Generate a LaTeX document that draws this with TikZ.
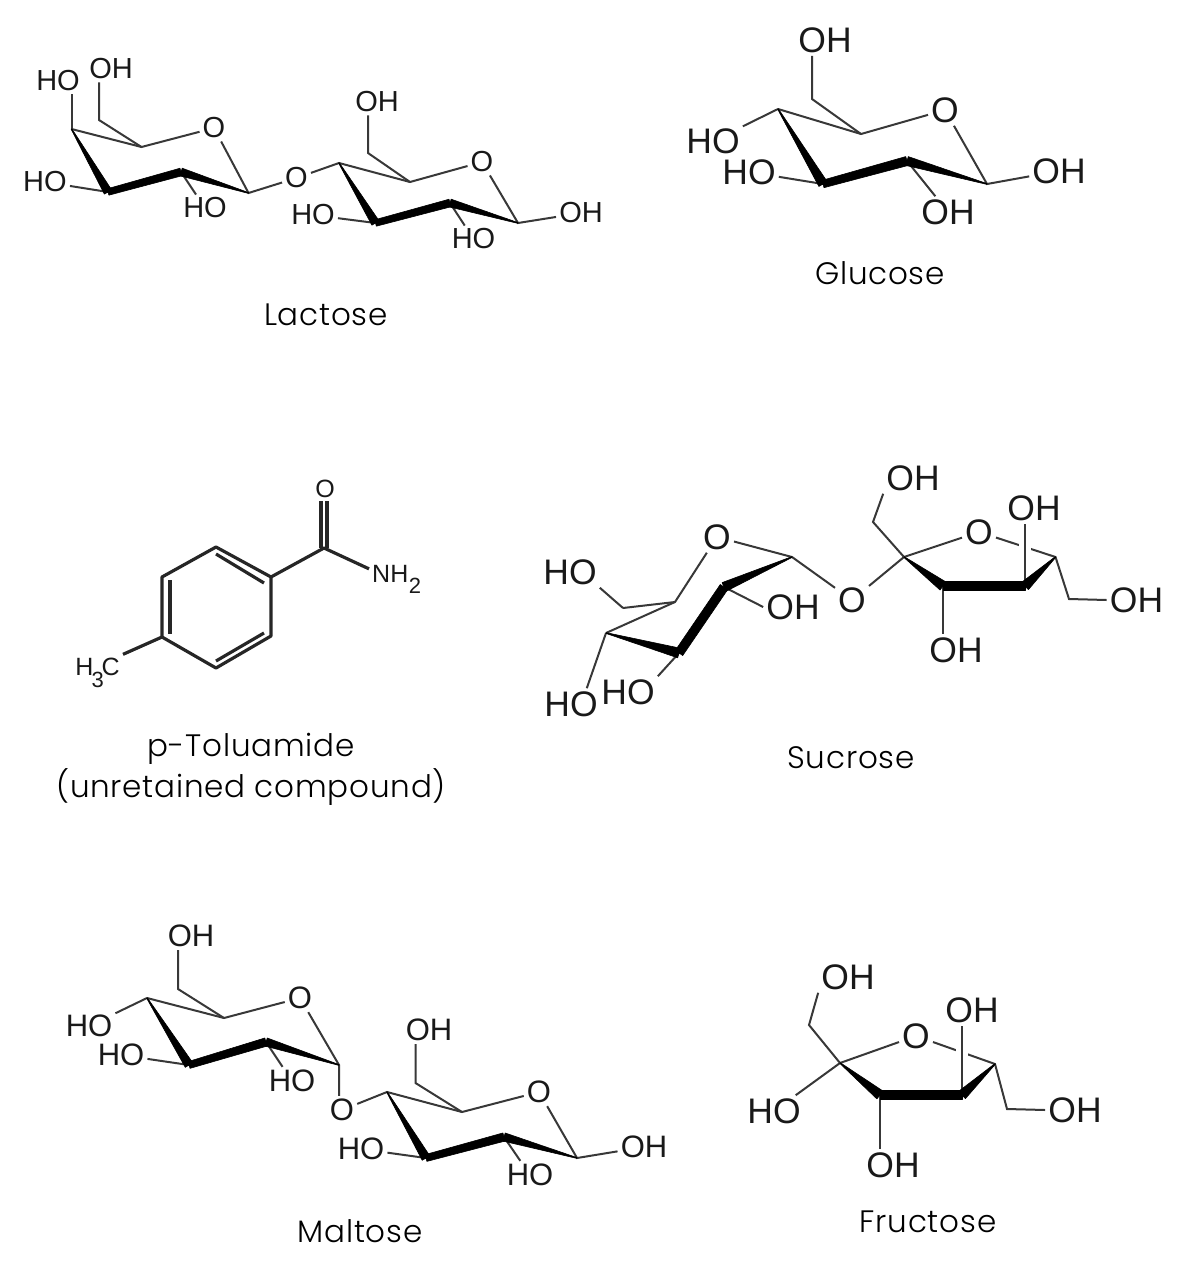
\documentclass[tikz,border=0pt]{standalone}
\usepackage{fontspec}
\setmainfont{Liberation Sans}
\newfontfamily\capfont[LetterSpace=2.5]{Poppins Light}
\usetikzlibrary{calc,positioning}

\tikzset{
  bond/.style={draw=black!78, line width=2pt},
  halo/.style={draw=white, line width=12pt},
  tolbond/.style={draw=black!85, line width=3.2pt, line join=round},
  atomsmall/.style={inner sep=3pt, text=black!90, font=\fontsize{29}{29}\selectfont},
  atommid/.style={inner sep=3pt, text=black!90, font=\fontsize{31}{31}\selectfont},
  atombig/.style={inner sep=3pt, text=black!90, font=\fontsize{35.5}{36}\selectfont},
  atomtol/.style={inner sep=3pt, text=black!90, font=\fontsize{25}{25}\selectfont},
  caption/.style={inner sep=0pt, text=black, font=\capfont\fontsize{31}{40}\selectfont}
}
\newcommand{\wedgebond}[4]{\filldraw[black, line width=.6pt, line join=round] ($(#1)!#3!90:(#2)$) -- ($(#1)!#3!-90:(#2)$) -- ($(#2)!#4!90:(#1)$) -- ($(#2)!#4!-90:(#1)$) -- cycle;}
\newcommand{\lowdigit}[2]{\raisebox{-#1}{\fontsize{22}{22}\selectfont #2}}

\begin{document}
\begin{tikzpicture}[x=1pt,y=-1pt]
  \useasboundingbox (0,0) rectangle (1186,1280);

  \begin{scope}
    \coordinate (la4) at (71.5,129); \coordinate (la5) at (141.5,147); \coordinate (la1) at (248.5,193);
    \coordinate (la2) at (181,172); \coordinate (la3) at (108,192); \coordinate (la6) at (99,120);
    \coordinate (lb4) at (339,163); \coordinate (lb5) at (410,182); \coordinate (lb1) at (518,223);
    \coordinate (lb2) at (450,203); \coordinate (lb3) at (375.5,223); \coordinate (lb6) at (368,153);
    \node[atomsmall] (lao) at (214,128) {O};
    \node[atomsmall] (laoh6) at (111,69) {OH};
    \node[atomsmall] (laho4) at (58,81) {HO};
    \node[atomsmall] (laho3) at (45,182) {HO};
    \node[atomsmall] (laho2) at (205,208) {HO};
    \node[atomsmall] (lbr) at (296.5,178) {O};
    \node[atomsmall] (lbo) at (482,162) {O};
    \node[atomsmall] (lboh6) at (377,102) {OH};
    \node[atomsmall] (lbho3) at (313,215) {HO};
    \node[atomsmall] (lbho2) at (473.5,239) {HO};
    \node[atomsmall] (lboh1) at (581,213) {OH};
    \node[caption] (lacname) at (326,315) {Lactose};
    \draw[bond] (la4) -- (la5) -- (lao) -- (la1) -- (lbr) -- (lb4) -- (lb5) -- (lbo) -- (lb1) -- (lboh1);
    \draw[bond] (la5) -- (la6) -- (la6 |- laoh6.south);
    \draw[bond] (la4) -- (la4 |- laho4.south);
    \draw[bond] (la3) -- (laho3);
    \draw[bond] (la2) -- (laho2);
    \draw[bond] (lb5) -- (lb6) -- (lb6 |- lboh6.south);
    \draw[bond] (lb3) -- (lbho3);
    \draw[bond] (lb2) -- (lbho2);
    \wedgebond{la4}{la3}{.4pt}{4.2pt} \wedgebond{la3}{la2}{3.3pt}{3.9pt} \wedgebond{la2}{la1}{4pt}{.4pt}
    \wedgebond{lb4}{lb3}{.4pt}{4.2pt} \wedgebond{lb3}{lb2}{3.3pt}{3.9pt} \wedgebond{lb2}{lb1}{4pt}{.4pt}
  \end{scope}

  \begin{scope}
    \coordinate (gl4) at (778,109); \coordinate (gl5) at (861,134); \coordinate (gl1) at (987,184);
    \coordinate (gl2) at (907,161); \coordinate (gl3) at (823,184); \coordinate (gl6) at (812,99);
    \node[atombig] (glo) at (945,110) {O};
    \node[atombig] (gloh6) at (825,40) {OH};
    \node[atombig] (glho4) at (713,141) {HO};
    \node[atombig] (glho3) at (749,172) {HO};
    \node[atombig] (gloh2) at (948,212) {OH};
    \node[atombig] (gloh1) at (1059,171) {OH};
    \node[caption] (gluname) at (880,273) {Glucose};
    \draw[bond] (gl4) -- (gl5) -- (glo) -- (gl1) -- (gloh1);
    \draw[bond] (gl5) -- (gl6) -- (gl6 |- gloh6.south);
    \draw[bond] (gl4) -- (glho4);
    \draw[bond] (gl3) -- (glho3);
    \draw[bond] (gl2) -- (gloh2);
    \wedgebond{gl4}{gl3}{.4pt}{4.8pt} \wedgebond{gl3}{gl2}{3.8pt}{4.6pt} \wedgebond{gl2}{gl1}{4.6pt}{.4pt}
  \end{scope}

  \begin{scope}
    \coordinate (to1) at (216,547); \coordinate (to2) at (271,577); \coordinate (to3) at (271,636);
    \coordinate (to4) at (216,668); \coordinate (to5) at (162,637); \coordinate (to6) at (162,577);
    \coordinate (tocb) at (324,548);
    \node[atomtol] (too) at (325,489) {O};
    \node[atomtol, anchor=base west] (tonh) at (369,582) {NH\kern.5pt\lowdigit{11pt}{2}};
    \node[atomtol, anchor=base east] (toch) at (123,675) {H\kern-2pt\lowdigit{12pt}{3}\kern-2pt C};
    \node[caption] (tolname) at (251,749) {p-Toluamide};
    \node[caption, below=3pt of tolname] (tolnote) {(unretained compound)};
    \draw[tolbond] (to1) -- (to2) -- (to3) -- (to4) -- (to5) -- (to6) -- cycle;
    \draw[tolbond] (to2) -- (tocb) -- (tonh.160);
    \draw[tolbond] (to5) -- (toch.north east);
    \draw[tolbond] ([xshift=-3pt]tocb) -- ([xshift=-3pt]tocb |- too.south);
    \draw[tolbond] ([xshift=3pt]tocb) -- ([xshift=3pt]tocb |- too.south);
    \coordinate (toa) at (170,580); \coordinate (tob) at (170,634);
    \coordinate (toc) at (216,554); \coordinate (tod) at (264,583);
    \coordinate (toe) at (264,633); \coordinate (tof) at (216,661);
    \draw[tolbond] (toa) -- (tob);
    \draw[tolbond] (toc) -- (tod);
    \draw[tolbond] (toe) -- (tof);
  \end{scope}

  \begin{scope}
    \coordinate (su1) at (792,557); \coordinate (su2) at (724,587); \coordinate (su3) at (679,653);
    \coordinate (su4) at (606,633); \coordinate (su5) at (675,602); \coordinate (su6) at (623,608);
    \coordinate (sf2) at (904,557); \coordinate (sf5) at (1055.5,557); \coordinate (sf4) at (1025,586);
    \coordinate (sf3) at (943,586); \coordinate (sf1) at (873,522); \coordinate (sf6) at (1069,599);
    \node[atombig] (suo) at (717,537) {O};
    \node[atombig] (suho6) at (570,572) {HO};
    \node[atombig] (suho4) at (571,704) {HO};
    \node[atombig] (suho3) at (628,692) {HO};
    \node[atombig] (suoh2) at (793,607) {OH};
    \node[atombig] (sbr) at (852,600) {O};
    \node[atombig] (sfo) at (979,532) {O};
    \node[atombig] (sfoh1) at (913,478) {OH};
    \node[atombig] (sfoh4) at (1034,508) {OH};
    \node[atombig] (sfoh3) at (956,650) {OH};
    \node[atombig] (sfoh6) at (1136.5,600) {OH};
    \node[caption] (sucname) at (851,758) {Sucrose};
    \draw[bond] (su6) -- (su5) -- (suo) -- (su1) -- (sbr) -- (sf2) -- (sfo) -- (sf5) -- (sf6) -- (sfoh6.west);
    \draw[bond] (su4) -- (su5);
    \draw[bond] (su6) -- (suho6.south east);
    \draw[bond] (su4) -- (suho4.45);
    \draw[bond] (su3) -- (suho3.north east);
    \draw[bond] (su2) -- (suoh2.west);
    \draw[bond] (sf2) -- (sf1) -- (sfoh1.south west);
    \draw[halo] (sf4) -- (sf4 |- sfoh4.south);
    \draw[bond] (sf4) -- (sf4 |- sfoh4.south);
    \draw[bond] (sf3) -- (sf3 |- sfoh3.north);
    \wedgebond{su1}{su2}{.4pt}{4.8pt} \wedgebond{su2}{su3}{4.5pt}{4.5pt} \wedgebond{su3}{su4}{5pt}{.4pt}
    \wedgebond{sf2}{sf3}{.4pt}{5pt} \wedgebond{sf3}{sf4}{4.5pt}{4.5pt} \wedgebond{sf4}{sf5}{5pt}{.4pt}
  \end{scope}

  \begin{scope}
    \coordinate (ma4) at (147,998); \coordinate (ma5) at (224,1018); \coordinate (ma1) at (339,1065);
    \coordinate (ma2) at (266,1042); \coordinate (ma3) at (189,1065); \coordinate (ma6) at (178,989);
    \coordinate (mb4) at (387,1092); \coordinate (mb5) at (462,1112); \coordinate (mb1) at (577,1158);
    \coordinate (mb2) at (504,1137); \coordinate (mb3) at (426,1158); \coordinate (mb6) at (415.5,1083);
    \node[atommid] (mao) at (300,998) {O};
    \node[atommid] (maoh6) at (191,936) {OH};
    \node[atommid] (maho4) at (89,1026) {HO};
    \node[atommid] (maho3) at (121,1055) {HO};
    \node[atommid] (maho2) at (292,1081) {HO};
    \node[atommid] (mbr) at (342,1110) {O};
    \node[atommid] (mbo) at (539,1092) {O};
    \node[atommid] (mboh6) at (429,1030) {OH};
    \node[atommid] (mbho3) at (361,1149) {HO};
    \node[atommid] (mbho2) at (530,1175) {HO};
    \node[atommid] (mboh1) at (644,1147) {OH};
    \node[caption] (malname) at (360,1231) {Maltose};
    \draw[bond] (ma4) -- (ma5) -- (mao) -- (ma1) -- (ma1 |- mbr.north);
    \draw[bond] (mbr) -- (mb4) -- (mb5) -- (mbo) -- (mb1) -- (mboh1);
    \draw[bond] (ma5) -- (ma6) -- (ma6 |- maoh6.south);
    \draw[bond] (ma4) -- (maho4);
    \draw[bond] (ma3) -- (maho3);
    \draw[bond] (ma2) -- (maho2);
    \draw[bond] (mb5) -- (mb6) -- (mb6 |- mboh6.south);
    \draw[bond] (mb3) -- (mbho3);
    \draw[bond] (mb2) -- (mbho2);
    \wedgebond{ma4}{ma3}{.4pt}{4.4pt} \wedgebond{ma3}{ma2}{3.5pt}{4.2pt} \wedgebond{ma2}{ma1}{4.2pt}{.4pt}
    \wedgebond{mb4}{mb3}{.4pt}{4.4pt} \wedgebond{mb3}{mb2}{3.5pt}{4.2pt} \wedgebond{mb2}{mb1}{4.2pt}{.4pt}
  \end{scope}

  \begin{scope}
    \coordinate (fr2) at (840,1063); \coordinate (fr5) at (995,1064); \coordinate (fr4) at (962,1095);
    \coordinate (fr3) at (880,1095); \coordinate (fr1) at (809,1025); \coordinate (fr6) at (1007,1109);
    \node[atombig] (fro) at (916,1036) {O};
    \node[atombig] (froh1) at (848,977) {OH};
    \node[atombig] (froh4) at (972,1010) {OH};
    \node[atombig] (frho2) at (774,1111) {HO};
    \node[atombig] (froh3) at (893,1165) {OH};
    \node[atombig] (froh6) at (1075,1110) {OH};
    \node[caption] (fruname) at (928,1222) {Fructose};
    \draw[bond] (fr2) -- (fro) -- (fr5) -- (fr6) -- (froh6.west);
    \draw[bond] (fr2) -- (fr1) -- (froh1.south west);
    \draw[bond] (fr2) -- (frho2);
    \draw[halo] (fr4) -- (fr4 |- froh4.south);
    \draw[bond] (fr4) -- (fr4 |- froh4.south);
    \draw[bond] (fr3) -- (fr3 |- froh3.north);
    \wedgebond{fr2}{fr3}{.4pt}{5pt} \wedgebond{fr3}{fr4}{4.5pt}{4.5pt} \wedgebond{fr4}{fr5}{5pt}{.4pt}
  \end{scope}
\end{tikzpicture}
\end{document}
